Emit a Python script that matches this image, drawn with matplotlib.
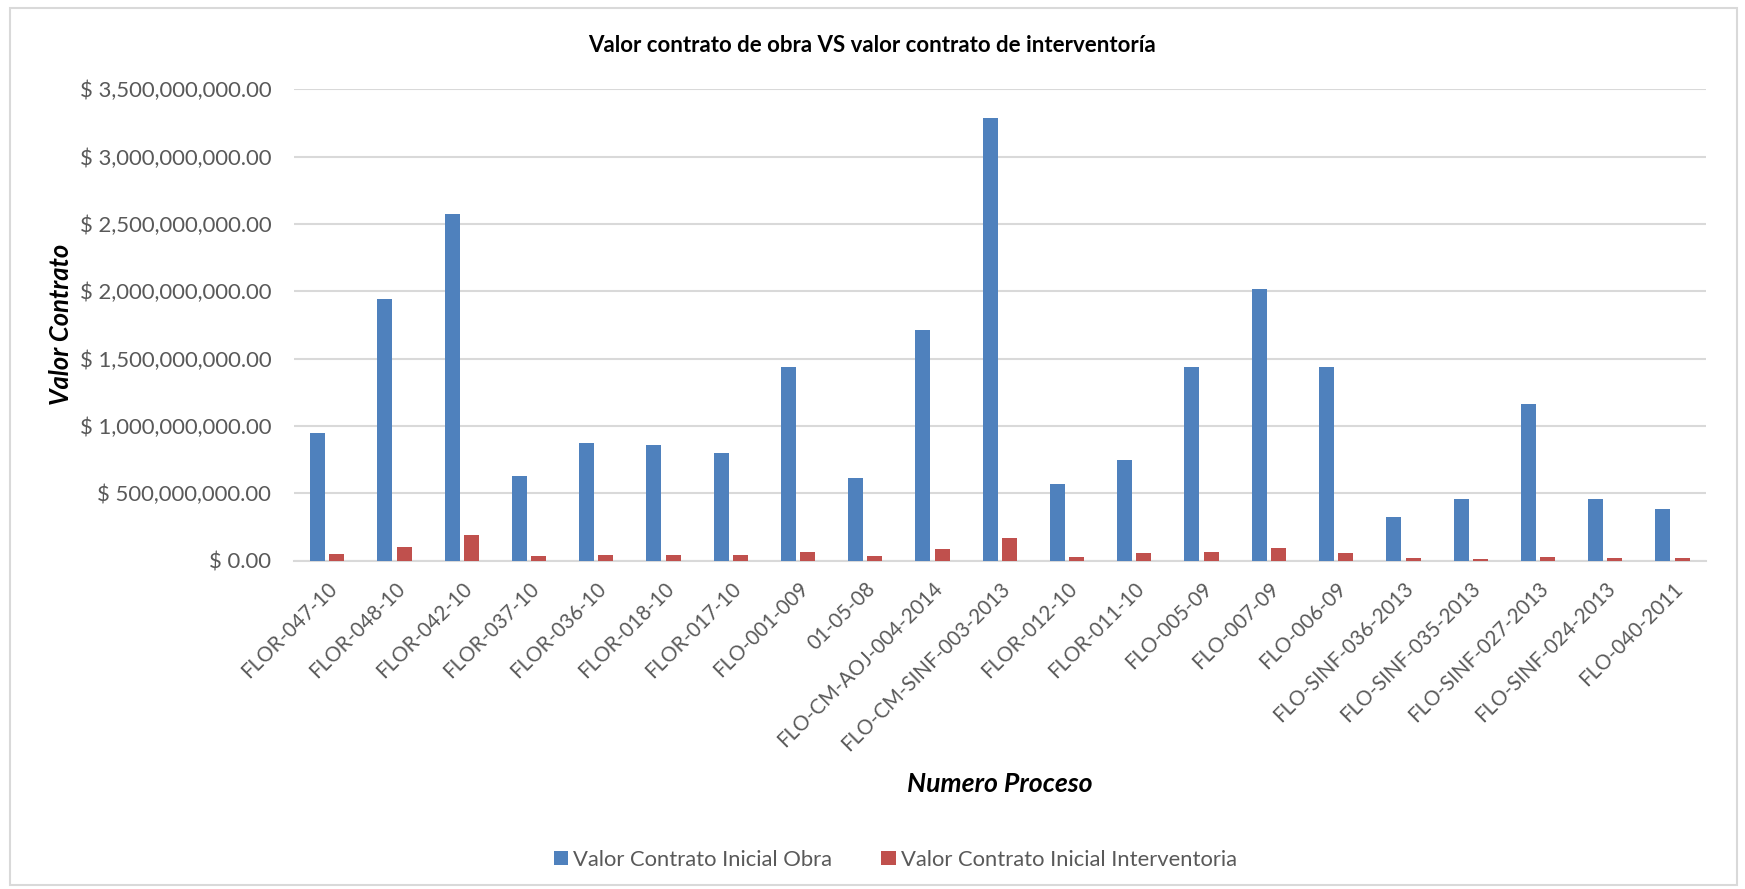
import matplotlib
matplotlib.use("Agg")
import matplotlib.pyplot as plt
import numpy as np
from matplotlib.ticker import FuncFormatter
from matplotlib.patches import Rectangle, Patch

categories = ["FLOR-047-10", "FLOR-048-10", "FLOR-042-10", "FLOR-037-10", "FLOR-036-10",
              "FLOR-018-10", "FLOR-017-10", "FLO-001-009", "01-05-08", "FLO-CM-AOJ-004-2014",
              "FLO-CM-SINF-003-2013", "FLOR-012-10", "FLOR-011-10", "FLO-005-09", "FLO-007-09",
              "FLO-006-09", "FLO-SINF-036-2013", "FLO-SINF-035-2013", "FLO-SINF-027-2013",
              "FLO-SINF-024-2013", "FLO-040-2011"]

obra = [950e6, 1945e6, 2575e6, 626e6, 876e6, 861e6, 797e6, 1435e6, 611e6, 1710e6,
        3290e6, 569e6, 747e6, 1435e6, 2020e6, 1435e6, 326e6, 457e6, 1163e6, 457e6, 381e6]
interventoria = [49e6, 101e6, 190e6, 34e6, 42e6, 40e6, 41e6, 64e6, 34e6, 86e6,
                 168e6, 29e6, 54e6, 64e6, 91e6, 54e6, 19e6, 15e6, 27e6, 19e6, 20e6]

series_names = ["Valor Contrato Inicial Obra", "Valor Contrato Inicial Interventoria"]
title = "Valor contrato de obra VS valor contrato de interventoría"
xlabel = "Numero Proceso"
ylabel = "Valor Contrato"

BLUE = "#4F81BD"
RED = "#C0504D"
GRID = "#D9D9D9"
TXT = "#595959"
FONT = ["Lato", "DejaVu Sans"]
plt.rcParams["font.family"] = FONT

fig = plt.figure(figsize=(17.45, 8.89), dpi=100)
ax = fig.add_axes([0.1682, 0.3694, 0.9777 - 0.1682, 0.8996 - 0.3694])

x = np.arange(len(categories))
w = 0.223
off = 0.1435
ax.bar(x - off, obra, width=w, color=BLUE, zorder=3)
ax.bar(x + off, interventoria, width=w, color=RED, zorder=3)

ax.set_xlim(-0.5, len(categories) - 0.5)
ax.set_ylim(0, 3.5e9)
ax.set_yticks(np.arange(0, 3.5e9 + 1, 5e8))
ax.yaxis.set_major_formatter(FuncFormatter(lambda v, p: "$ {:,.2f}".format(v)))
ax.grid(axis="y", color=GRID, linewidth=1.5, zorder=0)
for s in ["top", "right", "left"]:
    ax.spines[s].set_visible(False)
ax.spines["bottom"].set_color(GRID)
ax.spines["bottom"].set_linewidth(1.5)
ax.tick_params(axis="both", length=0, colors=TXT)
ax.tick_params(axis="y", labelsize=15.9, pad=16)
ax.set_xticks(x)
ax.set_xticklabels(categories, rotation=45, ha="right", va="top",
                   rotation_mode="anchor", fontsize=14.8, color=TXT)
ax.tick_params(axis="x", pad=13)

fig.text(0.500, 0.949, title, ha="center", va="center", fontsize=16, fontweight="bold", color="black")
fig.text(0.573, 0.118, xlabel, ha="center", va="center", fontsize=19.2,
         fontweight="bold", fontstyle="italic", color="black")
fig.text(0.035, 0.635, ylabel, ha="center", va="center", rotation=90, fontsize=18.4,
         fontweight="bold", fontstyle="italic", color="black")

handles = [Patch(facecolor=BLUE), Patch(facecolor=RED)]
leg = fig.legend(handles, series_names, loc="center", bbox_to_anchor=(0.513, 0.033),
                 ncol=2, frameon=False, fontsize=15.8, handlelength=0.64, handleheight=0.64,
                 handletextpad=0.23, columnspacing=2.26)
for t in leg.get_texts():
    t.set_color(TXT)

fig.patches.append(Rectangle((9.5 / 1745, 4 / 889), (1737 - 9.5) / 1745, (881.5 - 4) / 889,
                             transform=fig.transFigure, fill=False, edgecolor=GRID, linewidth=1.5))

fig.savefig("out.png", dpi=100)
